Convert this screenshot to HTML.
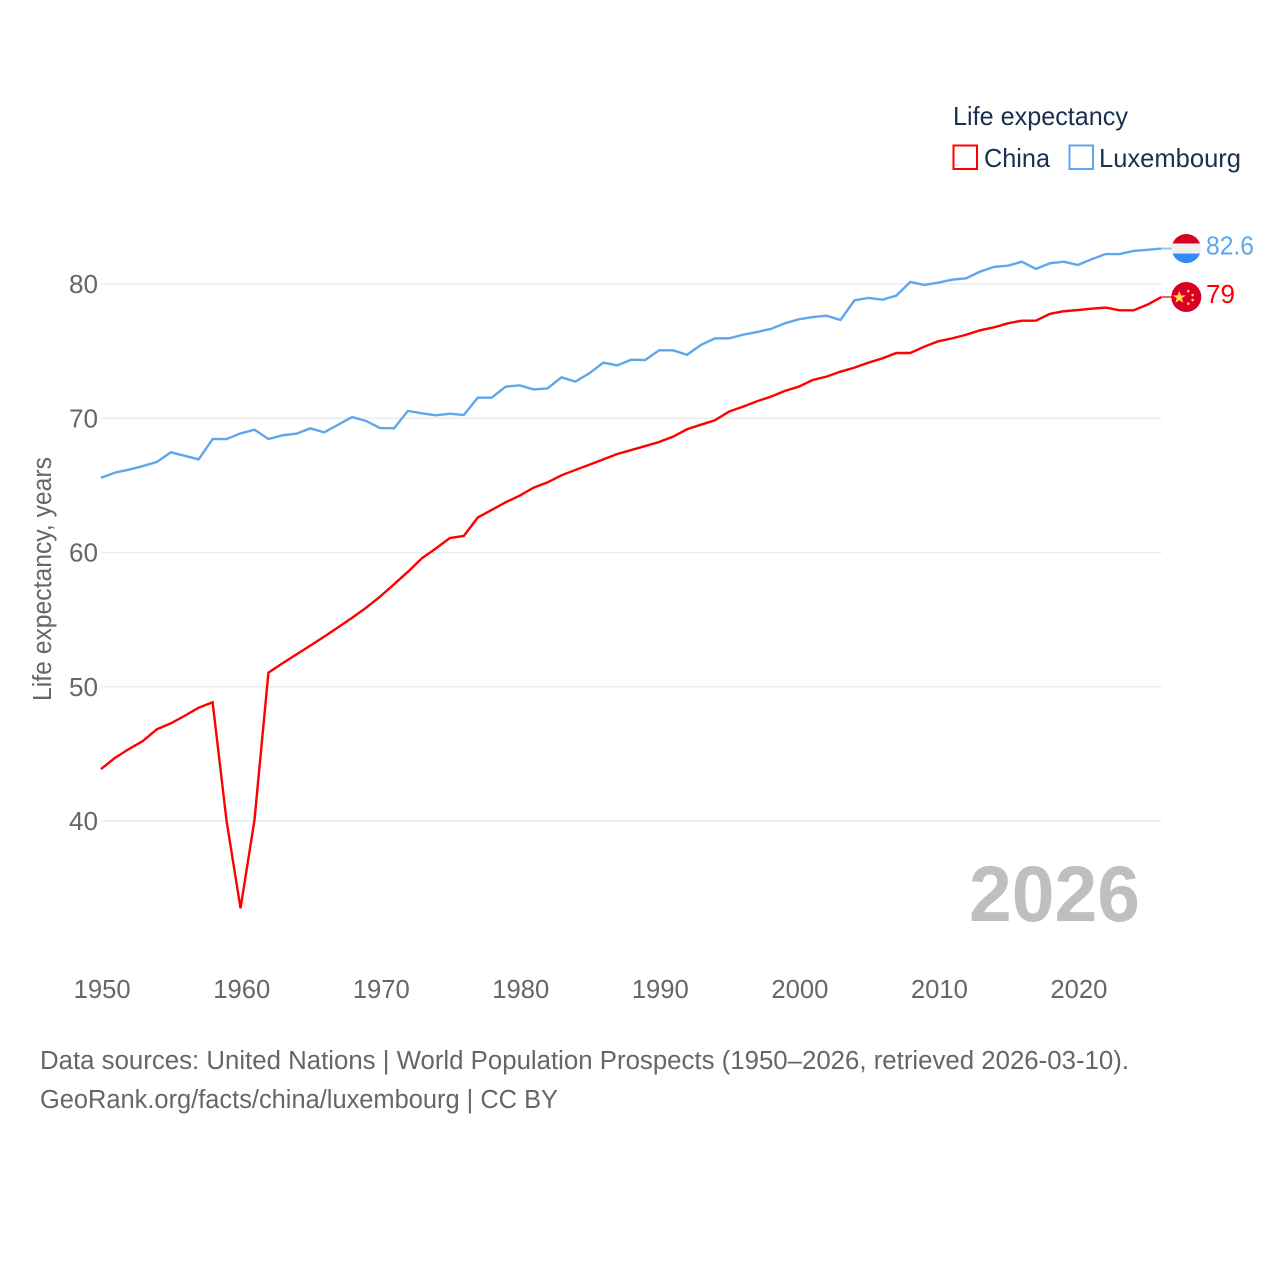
<!DOCTYPE html>
<html lang="en">
<head>
<meta charset="utf-8">
<title>Life expectancy: China and Luxembourg</title>
<style>
html,body{margin:0;padding:0;background:#fff;width:1280px;height:1280px;overflow:hidden}
svg{display:block;font-family:"Liberation Sans",sans-serif}
.tick{font-size:25.5px;fill:#666}
.foot{font-size:25.5px;fill:#666}
.leg{font-size:26px;fill:#1b2f4f}
</style>
</head>
<body>
<svg id="chart" width="1280" height="1280" viewBox="0 0 1280 1280" xmlns="http://www.w3.org/2000/svg">
  <g id="grid"></g>
  <g id="y-ticks"></g>
  <g id="x-ticks"></g>
  <text class="tick" transform="translate(51,701) rotate(-90)" textLength="244" lengthAdjust="spacingAndGlyphs">Life expectancy, years</text>

  <path id="line-china" fill="none" stroke="#ff0000" stroke-width="2.4" stroke-linejoin="miter"></path>
  <path id="line-lux" fill="none" stroke="#5ea6ee" stroke-width="2.4" stroke-linejoin="miter"></path>
  <line id="conn-china" stroke="#ff0000" stroke-width="2" opacity="0.65"></line>
  <line id="conn-lux" stroke="#5ea6ee" stroke-width="2" opacity="0.65"></line>

  <g id="flag-lux">
    <clipPath id="lux-clip"><circle cx="0" cy="0" r="14.6"></circle></clipPath>
    <g clip-path="url(#lux-clip)">
      <rect x="-15" y="-15" width="30" height="10" fill="#d80027"></rect>
      <rect x="-15" y="-5" width="30" height="10" fill="#efefef"></rect>
      <rect x="-15" y="5" width="30" height="10" fill="#338af3"></rect>
    </g>
  </g>
  <g id="flag-china">
    <circle cx="0" cy="0" r="15" fill="#d80027"></circle>
    <polygon fill="#ffda44" points="-7,-6 -5.3,-1.6 -0.6,-1.6 -4.4,1.3 -3,5.8 -7,3.1 -11,5.8 -9.6,1.3 -13.4,-1.6 -8.7,-1.6"></polygon>
    <circle cx="2" cy="-6" r="1.3" fill="#ffda44"></circle>
    <circle cx="6.4" cy="-2" r="1.3" fill="#ffda44"></circle>
    <circle cx="6.4" cy="3" r="1.3" fill="#ffda44"></circle>
    <circle cx="2" cy="6.6" r="1.3" fill="#ffda44"></circle>
  </g>
  <text id="value-lux" x="1206" font-size="26" fill="#5ea6ee" textLength="48" lengthAdjust="spacingAndGlyphs"></text>
  <text id="value-china" x="1206" font-size="26" fill="#ff0000"></text>

  <g>
    <text class="leg" x="953" y="125" textLength="175" lengthAdjust="spacingAndGlyphs">Life expectancy</text>
    <g>
      <rect x="953.5" y="145.5" width="23.5" height="23.5" fill="#fff" stroke="#ff0000" stroke-width="2"></rect>
      <text class="leg" x="984" y="167" textLength="66" lengthAdjust="spacingAndGlyphs">China</text>
    </g>
    <g>
      <rect x="1069.5" y="145.5" width="23.5" height="23.5" fill="#fff" stroke="#5ea6ee" stroke-width="2"></rect>
      <text class="leg" x="1099" y="167" textLength="142" lengthAdjust="spacingAndGlyphs">Luxembourg</text>
    </g>
  </g>

  <text x="969" y="921" font-size="79" font-weight="700" fill="#bfbfbf" textLength="171" lengthAdjust="spacingAndGlyphs">2026</text>

  <text class="foot" x="40" y="1069" textLength="1089" lengthAdjust="spacingAndGlyphs">Data sources: United Nations | World Population Prospects (1950–2026, retrieved 2026-03-10).</text>
  <text class="foot" x="40" y="1108" textLength="518" lengthAdjust="spacingAndGlyphs">GeoRank.org/facts/china/luxembourg | CC BY</text>
</svg>
<script>
var startYear = 1950;
var yTickValues = [40, 50, 60, 70, 80];
var xTickValues = [1950, 1960, 1970, 1980, 1990, 2000, 2010, 2020];
var chinaValues = [43.87,44.7,45.36,45.96,46.83,47.27,47.84,48.44,48.84,40.0,33.5,40.07,51.05,51.74,52.4,53.06,53.73,54.43,55.14,55.89,56.71,57.63,58.57,59.57,60.3,61.08,61.23,62.6,63.17,63.74,64.23,64.83,65.22,65.75,66.15,66.54,66.94,67.34,67.63,67.93,68.23,68.63,69.18,69.52,69.85,70.49,70.86,71.26,71.6,72.03,72.35,72.85,73.1,73.47,73.77,74.14,74.46,74.86,74.86,75.33,75.73,75.95,76.22,76.55,76.77,77.07,77.27,77.27,77.77,77.97,78.06,78.16,78.24,78.04,78.04,78.46,79.03];
var luxembourgValues = [65.57,65.95,66.17,66.44,66.74,67.46,67.2,66.94,68.45,68.45,68.87,69.15,68.45,68.73,68.85,69.25,68.95,69.52,70.09,69.8,69.27,69.25,70.55,70.37,70.22,70.34,70.24,71.53,71.53,72.35,72.45,72.15,72.22,73.05,72.73,73.35,74.14,73.94,74.36,74.34,75.06,75.06,74.73,75.46,75.95,75.95,76.22,76.42,76.65,77.07,77.37,77.54,77.64,77.32,78.78,78.96,78.83,79.13,80.15,79.93,80.1,80.32,80.42,80.92,81.27,81.36,81.66,81.12,81.54,81.66,81.42,81.84,82.23,82.23,82.46,82.55,82.64];

var SVG_NS = 'http://www.w3.org/2000/svg';
function xScale(year) { return 101 + (year - 1950) * (1161.4 - 101) / 76; }
function yScale(value) { return 284 + (80 - value) * 13.425; }
function linePath(values) {
  return values.map(function (v, i) {
    return (i ? 'L' : 'M') + xScale(startYear + i).toFixed(2) + ' ' + yScale(v).toFixed(2);
  }).join(' ');
}
function formatValue(v) { return String(Math.round(v * 10) / 10); }

var gridGroup = document.getElementById('grid');
var yTickGroup = document.getElementById('y-ticks');
yTickValues.forEach(function (v) {
  var gl = document.createElementNS(SVG_NS, 'line');
  
  
  gl.setAttribute('x1', 101.4);
  gl.setAttribute('x2', 1161.6);
  gl.setAttribute('y1', yScale(v));
  gl.setAttribute('y2', yScale(v));
  gl.setAttribute('stroke', '#ececec');
  gl.setAttribute('stroke-width', '1.5');
  gridGroup.appendChild(gl);

  var t = document.createElementNS(SVG_NS, 'text');
  
  
  t.setAttribute('class', 'tick');
  t.setAttribute('x', 69);
  t.setAttribute('y', yScale(v) + 9);
  t.setAttribute('textLength', '29');
  t.setAttribute('lengthAdjust', 'spacingAndGlyphs');
  t.textContent = v;
  yTickGroup.appendChild(t);
});

var xTickGroup = document.getElementById('x-ticks');
xTickValues.forEach(function (yr) {
  var t = document.createElementNS(SVG_NS, 'text');
  
  
  t.setAttribute('class', 'tick');
  t.setAttribute('x', xScale(yr) - 27.3);
  t.setAttribute('y', 998);
  t.setAttribute('textLength', '57');
  t.setAttribute('lengthAdjust', 'spacingAndGlyphs');
  t.textContent = yr;
  xTickGroup.appendChild(t);
});

document.getElementById('line-china').setAttribute('d', linePath(chinaValues));
document.getElementById('line-lux').setAttribute('d', linePath(luxembourgValues));

function placeEnd(values, flagId, connId, labelId) {
  var last = values[values.length - 1];
  var y = yScale(last);
  document.getElementById(flagId).setAttribute('transform', 'translate(1186.3,' + y + ')');
  var c = document.getElementById(connId);
  c.setAttribute('x1', 1161.4);
  c.setAttribute('x2', 1172);
  c.setAttribute('y1', y);
  c.setAttribute('y2', y);
  var l = document.getElementById(labelId);
  l.setAttribute('y', y + 6);
  l.textContent = formatValue(last);
}
placeEnd(luxembourgValues, 'flag-lux', 'conn-lux', 'value-lux');
placeEnd(chinaValues, 'flag-china', 'conn-china', 'value-china');
</script>
</body>
</html>
